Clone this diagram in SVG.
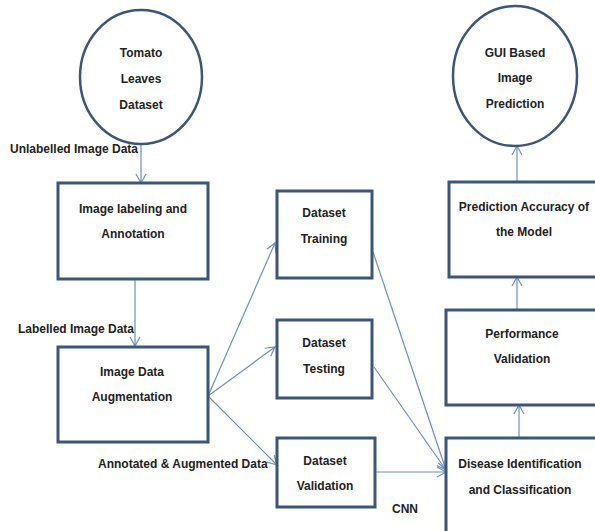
<svg xmlns="http://www.w3.org/2000/svg" width="595" height="531" viewBox="0 0 595 531">
<style>
.box{fill:#fff;stroke:#3d5678;stroke-width:3}
.circ{fill:#fff;stroke:#3d5678;stroke-width:2.5}
.t{font-family:"Liberation Sans",Arial,sans-serif;font-weight:bold;font-size:12px;fill:#222;text-anchor:middle}
.l{font-family:"Liberation Sans",Arial,sans-serif;font-weight:bold;font-size:12px;fill:#222}
.c{fill:none;stroke:#6d8fbd;stroke-width:1.2}
</style>
<defs>
<marker id="ah" markerUnits="userSpaceOnUse" markerWidth="14" markerHeight="14" refX="10" refY="6" orient="auto">
<path d="M1,1 L10,6 L1,11" fill="none" stroke="#6d8fbd" stroke-width="1.2"/>
</marker>
</defs>
<rect width="595" height="531" fill="#fff"/>
<g id="connectors">
<line class="c" x1="141" y1="145" x2="141" y2="183" marker-end="url(#ah)"/>
<line class="c" x1="135" y1="279" x2="135" y2="346" marker-end="url(#ah)"/>
<line class="c" x1="208" y1="396" x2="275" y2="243" marker-end="url(#ah)"/>
<line class="c" x1="208" y1="396" x2="275" y2="347" marker-end="url(#ah)"/>
<line class="c" x1="208" y1="396" x2="277" y2="465" marker-end="url(#ah)"/>
<line class="c" x1="373" y1="252" x2="446" y2="470" marker-end="url(#ah)"/>
<line class="c" x1="374" y1="367" x2="446" y2="470" marker-end="url(#ah)"/>
<line class="c" x1="375" y1="472" x2="446" y2="472" marker-end="url(#ah)"/>
<line class="c" x1="519" y1="438" x2="519" y2="405" marker-end="url(#ah)"/>
<line class="c" x1="517" y1="310" x2="517" y2="277" marker-end="url(#ah)"/>
<line class="c" x1="517" y1="182" x2="517" y2="146" marker-end="url(#ah)"/>
</g>
<g id="labels">
<text class="l" x="10" y="153">Unlabelled Image Data</text>
<text class="l" x="18" y="333">Labelled Image Data</text>
<text class="l" x="98" y="468">Annotated &amp; Augmented Data</text>
<text class="t" x="405" y="513">CNN</text>
</g>
<g id="tomato">
<ellipse class="circ" cx="141" cy="77" rx="61" ry="67"/>
<text class="t" x="141" y="57">Tomato</text>
<text class="t" x="141" y="83">Leaves</text>
<text class="t" x="141" y="109">Dataset</text>
</g>
<g id="labeling">
<rect class="box" x="58" y="183" width="150" height="96"/>
<text class="t" x="133" y="213">Image labeling and</text>
<text class="t" x="133" y="238">Annotation</text>
</g>
<g id="augmentation">
<rect class="box" x="58" y="347" width="150" height="95"/>
<text class="t" x="132" y="376">Image Data</text>
<text class="t" x="132" y="401">Augmentation</text>
</g>
<g id="training">
<rect class="box" x="277" y="191" width="95" height="87"/>
<text class="t" x="324" y="217">Dataset</text>
<text class="t" x="324" y="243">Training</text>
</g>
<g id="testing">
<rect class="box" x="277" y="320" width="95" height="78"/>
<text class="t" x="324" y="347">Dataset</text>
<text class="t" x="324" y="373">Testing</text>
</g>
<g id="validation">
<rect class="box" x="277" y="438" width="98" height="69"/>
<text class="t" x="325" y="465">Dataset</text>
<text class="t" x="325" y="490">Validation</text>
</g>
<g id="disease">
<rect class="box" x="446" y="438" width="160" height="110"/>
<text class="t" x="520" y="468">Disease Identification</text>
<text class="t" x="520" y="494">and Classification</text>
</g>
<g id="performance">
<rect class="box" x="446" y="310" width="160" height="95"/>
<text class="t" x="522" y="338">Performance</text>
<text class="t" x="522" y="363">Validation</text>
</g>
<g id="accuracy">
<rect class="box" x="449" y="182" width="157" height="95"/>
<text class="t" x="524" y="211">Prediction Accuracy of</text>
<text class="t" x="524" y="236">the Model</text>
</g>
<g id="gui">
<ellipse class="circ" cx="515" cy="76" rx="62" ry="70"/>
<text class="t" x="515" y="57">GUI Based</text>
<text class="t" x="515" y="82">Image</text>
<text class="t" x="515" y="108">Prediction</text>
</g>
</svg>
